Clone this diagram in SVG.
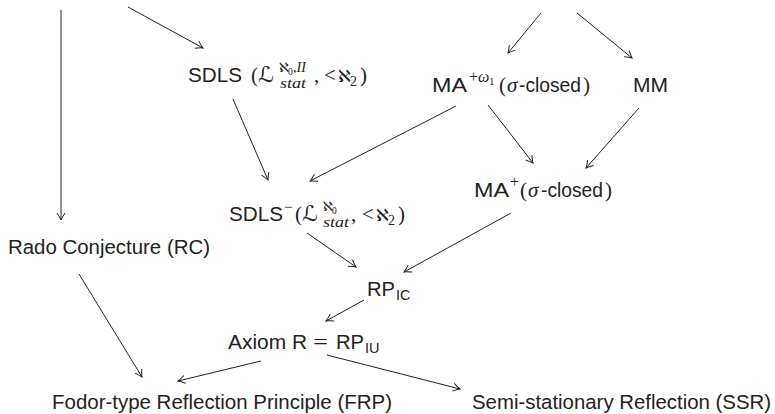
<svg xmlns="http://www.w3.org/2000/svg" width="775" height="414" viewBox="0 0 775 414">
<style>
.s{font-family:"Liberation Sans","DejaVu Sans",sans-serif;font-size:20.5px;fill:#222}
.m{font-family:"Liberation Serif","DejaVu Serif",serif;fill:#222}
.i{font-family:"Liberation Serif","DejaVu Serif",serif;font-style:italic;fill:#222}
.a{font-family:"DejaVu Serif","DejaVu Sans",serif;fill:#222}
.c{font-family:"DejaVu Sans","DejaVu Serif",sans-serif;fill:#222}
.sub{font-family:"Liberation Sans","DejaVu Sans",sans-serif;font-size:14.5px;fill:#222}
.e{stroke:#222;stroke-width:1;fill:none;marker-end:url(#ah)}
</style>
<defs>
<marker id="ah" viewBox="-9 -5 10 10" refX="0" refY="0" markerWidth="10" markerHeight="10" markerUnits="userSpaceOnUse" orient="auto">
<path d="M-7,-4 Q-2.5,-1 0,0 Q-2.5,1 -7,4" fill="none" stroke="#222" stroke-width="1"/>
</marker>
</defs>
<rect width="775" height="414" fill="#fff"/>
<g id="connectors">
<line class="e" x1="61" y1="10" x2="61" y2="220"/>
<line class="e" x1="128" y1="7" x2="203" y2="48"/>
<line class="e" x1="541" y1="13" x2="508" y2="53"/>
<line class="e" x1="577" y1="13" x2="632" y2="58"/>
<line class="e" x1="233" y1="99" x2="268" y2="180"/>
<line class="e" x1="456" y1="106" x2="310" y2="181"/>
<line class="e" x1="488" y1="105" x2="533" y2="163"/>
<line class="e" x1="639" y1="108" x2="586" y2="168"/>
<line class="e" x1="307" y1="233" x2="356" y2="267"/>
<line class="e" x1="511" y1="213" x2="404" y2="272"/>
<line class="e" x1="364" y1="300" x2="326" y2="321"/>
<line class="e" x1="261" y1="361" x2="178" y2="381"/>
<line class="e" x1="327" y1="355" x2="460" y2="389"/>
<line class="e" x1="79" y1="274" x2="142" y2="377"/>
</g>
<g id="sdls">
<text class="s" x="188" y="82" textLength="54" lengthAdjust="spacingAndGlyphs">SDLS</text>
<text class="m" x="251" y="82" style="font-size:21px">(</text>
<text class="c" x="258" y="82" style="font-size:22px">ℒ</text>
<text class="a" x="279" y="72" style="font-size:13px">ℵ</text>
<text class="m" x="288" y="75" style="font-size:9.5px">0</text>
<text class="i" x="293" y="72" style="font-size:14px">,II</text>
<text class="i" x="280" y="88" style="font-size:15px" textLength="26" lengthAdjust="spacingAndGlyphs">stat</text>
<text class="m" x="314" y="82" style="font-size:21px">,</text>
<text class="m" x="324" y="82" style="font-size:21px">&lt;</text>
<text class="a" x="338" y="82" style="font-size:17px">ℵ</text>
<text class="m" x="350" y="86" style="font-size:14px">2</text>
<text class="m" x="360" y="82" style="font-size:21px">)</text>
</g>
<g id="ma-omega1">
<text class="s" x="432" y="92" textLength="35" lengthAdjust="spacingAndGlyphs">MA</text>
<text class="m" x="469" y="82" style="font-size:16px">+</text>
<text class="i" x="478" y="82" style="font-size:16px">ω</text>
<text class="m" x="489" y="85" style="font-size:11px">1</text>
<text class="m" x="499" y="92" style="font-size:21px">(</text>
<text class="i" x="507" y="92" style="font-size:21px">σ</text>
<text class="s" x="519" y="92" textLength="62" lengthAdjust="spacingAndGlyphs">-closed</text>
<text class="m" x="583" y="92" style="font-size:21px">)</text>
</g>
<g id="mm">
<text class="s" x="633" y="92" textLength="35" lengthAdjust="spacingAndGlyphs">MM</text>
</g>
<g id="ma-plus">
<text class="s" x="474" y="197" textLength="35" lengthAdjust="spacingAndGlyphs">MA</text>
<text class="m" x="510" y="187" style="font-size:16px">+</text>
<text class="m" x="520" y="197" style="font-size:21px">(</text>
<text class="i" x="528" y="197" style="font-size:21px">σ</text>
<text class="s" x="541" y="197" textLength="62" lengthAdjust="spacingAndGlyphs">-closed</text>
<text class="m" x="605" y="197" style="font-size:21px">)</text>
</g>
<g id="sdls-minus">
<text class="s" x="229" y="221" textLength="54" lengthAdjust="spacingAndGlyphs">SDLS</text>
<text class="m" x="284" y="212" style="font-size:15px">−</text>
<text class="m" x="295" y="221" style="font-size:21px">(</text>
<text class="c" x="302" y="221" style="font-size:22px">ℒ</text>
<text class="a" x="323" y="211" style="font-size:13px">ℵ</text>
<text class="m" x="332" y="214" style="font-size:9.5px">0</text>
<text class="i" x="323" y="227" style="font-size:15px" textLength="26" lengthAdjust="spacingAndGlyphs">stat</text>
<text class="m" x="351" y="221" style="font-size:21px">,</text>
<text class="m" x="362" y="221" style="font-size:21px">&lt;</text>
<text class="a" x="376" y="221" style="font-size:17px">ℵ</text>
<text class="m" x="388" y="225" style="font-size:14px">2</text>
<text class="m" x="398" y="221" style="font-size:21px">)</text>
</g>
<g id="rc">
<text class="s" x="8" y="254" textLength="202" lengthAdjust="spacingAndGlyphs">Rado Conjecture (RC)</text>
</g>
<g id="rp-ic">
<text class="s" x="367" y="296" textLength="28" lengthAdjust="spacingAndGlyphs">RP</text>
<text class="sub" x="396" y="300">IC</text>
</g>
<g id="axiom-r">
<text class="s" x="228" y="349" textLength="79" lengthAdjust="spacingAndGlyphs">Axiom R</text>
<text class="m" x="313" y="349" style="font-size:21px" textLength="15" lengthAdjust="spacingAndGlyphs">=</text>
<text class="s" x="336" y="349" textLength="28" lengthAdjust="spacingAndGlyphs">RP</text>
<text class="sub" x="365" y="353">IU</text>
</g>
<g id="frp">
<text class="s" x="52" y="409" textLength="340" lengthAdjust="spacingAndGlyphs">Fodor-type Reflection Principle (FRP)</text>
</g>
<g id="ssr">
<text class="s" x="472" y="409" textLength="299" lengthAdjust="spacingAndGlyphs">Semi-stationary Reflection (SSR)</text>
</g>
</svg>
